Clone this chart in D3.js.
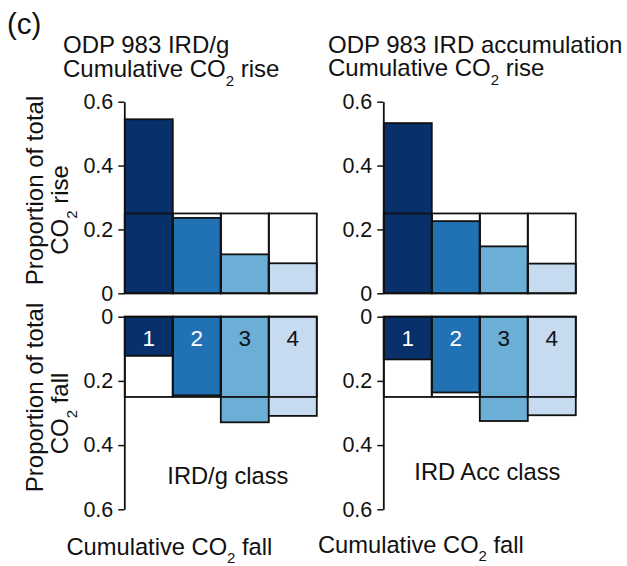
<!DOCTYPE html>
<html>
<head>
<meta charset="utf-8">
<script src="https://cdn.jsdelivr.net/npm/d3@7/dist/d3.min.js"></script>
<style>
  html, body { margin: 0; padding: 0; background: #fff; }
  svg { display: block; font-family: "Liberation Sans", Arial, Helvetica, sans-serif; }
</style>
</head>
<body>
<svg id="chart" width="627" height="566"></svg>
<script>
// IRD classes (1 = lowest ... 4 = highest)
const classes = [1, 2, 3, 4];
// Proportion of total CO2 rise / fall falling into each class
const irdgRise   = [0.545, 0.236, 0.122, 0.094];
const irdgFall   = [0.122, 0.245, 0.329, 0.309];
const irdAccRise = [0.533, 0.226, 0.147, 0.093];
const irdAccFall = [0.133, 0.236, 0.325, 0.307];
// Share each class would get if the change were spread evenly
const uniformShare = 0.25;
const yTicks = [0, 0.2, 0.4, 0.6];
const classColors = ["#08306b", "#2171b5", "#6baed6", "#c6dbef"];
const numberColors = ["#ffffff", "#ffffff", "#111111", "#111111"];

const svg = d3.select("#chart");
const ink = "#111";
const fmt = d => d === 0 ? "0" : d3.format(".1f")(d);

// A subscript-aware text helper: parts = [[text, isSub], ...]
function richText(g, parts, subSize, shift = 9) {
  parts.forEach(([t, sub], i) => {
    const ts = g.append("tspan").text(t);
    if (sub) ts.attr("font-size", subSize).attr("dy", shift);
    else if (i > 0 && parts[i - 1][1]) ts.attr("dy", -shift);
  });
  return g;
}

function panel(opts) {
  const { x0, yTop, yBottom, values, down, numbers } = opts;
  const x = d3.scaleBand().domain(classes).range([x0 + 0.5, x0 + 192.5]).padding(0);
  const y = d3.scaleLinear().domain([0, 0.6])
    .range(down ? [yTop, yBottom] : [yBottom, yTop]);
  const g = svg.append("g");

  const rectFor = (sel, v) => sel
    .attr("x", (d, i) => x(classes[i]))
    .attr("width", x.bandwidth())
    .attr("y", (d, i) => down ? y(0) : y(v(d)))
    .attr("height", (d) => Math.abs(y(v(d)) - y(0)));

  // white boxes at the even share
  g.selectAll("rect.even").data(values).join("rect").attr("class", "even")
    .call(rectFor, () => uniformShare)
    .attr("fill", "#fff").attr("stroke", "none");

  // coloured class bars
  g.selectAll("rect.bar").data(values).join("rect").attr("class", "bar")
    .call(rectFor, d => d)
    .attr("fill", (d, i) => classColors[i])
    .attr("stroke", ink).attr("stroke-width", 1.8);

  // outline of the even-share boxes on top
  g.selectAll("rect.evenline").data(values).join("rect").attr("class", "evenline")
    .call(rectFor, () => uniformShare)
    .attr("fill", "none")
    .attr("stroke", ink).attr("stroke-width", 1.8);

  if (numbers) {
    g.selectAll("text.num").data(classes).join("text").attr("class", "num")
      .attr("x", d => x(d) + x.bandwidth() / 2)
      .attr("y", y(0) + 29.5)
      .attr("text-anchor", "middle")
      .attr("font-size", 22.5)
      .attr("fill", (d, i) => numberColors[i])
      .text(d => d);
  }

  const axis = d3.axisLeft(y).tickValues(yTicks).tickFormat(fmt)
    .tickSize(6).tickSizeOuter(0).tickPadding(5);
  const ag = svg.append("g").attr("transform", `translate(${x0},0)`).call(axis);
  ag.select(".domain").attr("stroke", ink).attr("stroke-width", 1.8);
  ag.selectAll(".tick line").attr("stroke", ink).attr("stroke-width", 1.5);
  ag.selectAll(".tick text").attr("font-size", 21.5).attr("fill", ink)
    .attr("font-family", "Liberation Sans, Arial, sans-serif");
}

panel({ x0: 124.3, yTop: 101.7, yBottom: 293.3, values: irdgRise, down: false });
panel({ x0: 383.3, yTop: 101.7, yBottom: 293.3, values: irdAccRise, down: false });
panel({ x0: 124.3, yTop: 316.7, yBottom: 509.3, values: irdgFall, down: true, numbers: true });
panel({ x0: 383.3, yTop: 316.7, yBottom: 509.3, values: irdAccFall, down: true, numbers: true });

const T = (x, y, size) => svg.append("text").attr("x", x).attr("y", y)
  .attr("font-size", size).attr("fill", ink);

// panel letter and titles
T(7, 34, 29.5).text("(c)");
T(63, 53, 24).text("ODP 983 IRD/g");
richText(T(63, 76.5, 24), [["Cumulative CO", false], ["2", true], [" rise", false]], 15);
T(328, 52.5, 24).text("ODP 983 IRD accumulation");
richText(T(328, 76, 24), [["Cumulative CO", false], ["2", true], [" rise", false]], 15);

// class labels inside lower panels
T(167.3, 484, 23.7).text("IRD/g class");
T(414.3, 480, 23.7).text("IRD Acc class");

// bottom axis titles
richText(T(66.5, 554.5, 23.7), [["Cumulative CO", false], ["2", true], [" fall", false]], 15, 8);
richText(T(318, 552.5, 23.7), [["Cumulative CO", false], ["2", true], [" fall", false]], 15, 8);

// rotated y-axis titles
function yTitle(cx, cy, parts) {
  const t = svg.append("text")
    .attr("transform", `translate(${cx},${cy}) rotate(-90)`)
    .attr("text-anchor", "middle").attr("font-size", 24).attr("fill", ink);
  if (typeof parts === "string") t.text(parts); else richText(t, parts, 15);
}
yTitle(43, 190.5, "Proportion of total");
yTitle(68, 210, [["CO", false], ["2", true], [" rise", false]]);
yTitle(43, 397.5, "Proportion of total");
yTitle(68, 413.5, [["CO", false], ["2", true], [" fall", false]]);
</script>
</body>
</html>
